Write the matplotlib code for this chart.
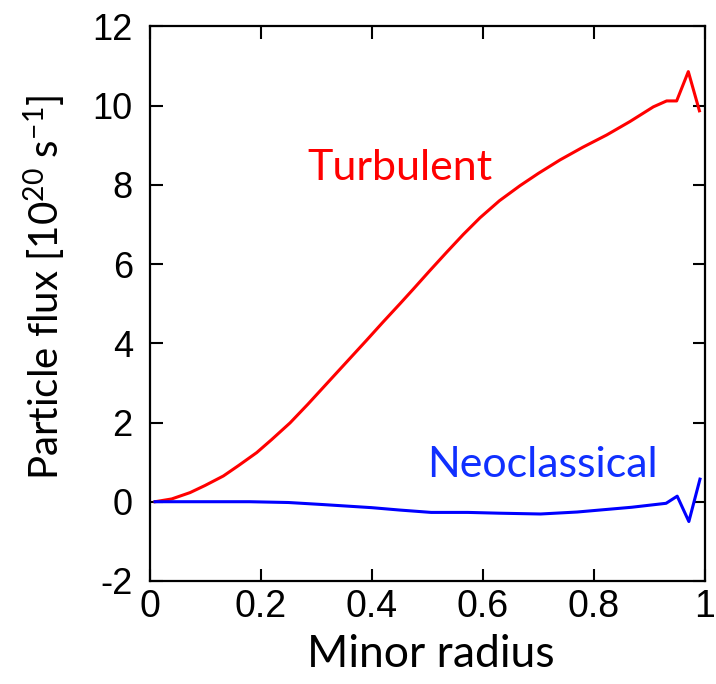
import numpy as np
import matplotlib
matplotlib.use('Agg')
import matplotlib.pyplot as plt

# data
r_turb = [0.01, 0.04, 0.073, 0.10, 0.133, 0.16, 0.193, 0.22, 0.253, 0.285,
          0.319, 0.355, 0.391, 0.42, 0.451, 0.475, 0.505, 0.535, 0.565, 0.595,
          0.63, 0.667, 0.70, 0.739, 0.78, 0.823, 0.865, 0.907, 0.931, 0.949,
          0.970, 0.990]
gamma_turb = [0.0, 0.07, 0.23, 0.41, 0.65, 0.91, 1.24, 1.57, 1.99, 2.46,
              2.98, 3.53, 4.08, 4.53, 5.0, 5.37, 5.84, 6.3, 6.75, 7.17,
              7.6, 7.98, 8.29, 8.63, 8.95, 9.26, 9.6, 9.97, 10.12, 10.12,
              10.86, 9.87]

r_neo = [0.01, 0.18, 0.25, 0.31, 0.40, 0.45, 0.507, 0.573, 0.63, 0.704, 0.77,
         0.868, 0.93, 0.95, 0.971, 0.991]
gamma_neo = [0.0, 0.0, -0.02, -0.07, -0.15, -0.21, -0.27, -0.27, -0.29, -0.31,
             -0.26, -0.14, -0.04, 0.14, -0.5, 0.57]

xticks = [0, 0.2, 0.4, 0.6, 0.8, 1]
xticklabels = ['0', '0.2', '0.4', '0.6', '0.8', '1']
yticks = [-2, 0, 2, 4, 6, 8, 10, 12]

plt.rcParams['mathtext.fontset'] = 'custom'
plt.rcParams['mathtext.rm'] = 'Lato'
plt.rcParams['mathtext.it'] = 'Lato:italic'
plt.rcParams['mathtext.bf'] = 'Lato:bold'
plt.rcParams['mathtext.default'] = 'rm'

fig = plt.figure(figsize=(7.16, 6.84), dpi=100)
ax = fig.add_axes([0.2088, 0.1507, 0.7758, 0.8106])

ax.plot(r_turb, gamma_turb, color='#ff0000', lw=2.2)
ax.plot(r_neo, gamma_neo, color='#0000ff', lw=2.2)

ax.text(0.451, 8.43, 'Turbulent', color='#ff0000', fontsize=31, family='Lato',
        ha='center', va='center')
ax.text(0.707, 0.93, 'Neoclassical', color='#1030ff', fontsize=31, family='Lato',
        ha='center', va='center')

ax.set_xlim(0, 1)
ax.set_ylim(-2, 12)
ax.set_xticks(xticks)
ax.set_xticklabels(xticklabels, family='Liberation Sans', fontsize=27)
ax.set_yticks(yticks)
ax.set_yticklabels([str(v) for v in yticks], family='Liberation Sans', fontsize=26)
ax.tick_params(direction='in', length=9, width=1.5, top=True, right=True)
ax.tick_params(axis='x', pad=6)
ax.tick_params(axis='y', pad=12)
for s in ax.spines.values():
    s.set_linewidth(1.6)

ax.set_xlabel('Minor radius', family='Lato', fontsize=32, va='center')
ax.xaxis.set_label_coords(0.507, -0.133)
ax.set_ylabel('Particle flux [10$^{20}$ s$^{-1}$]', family='Lato', fontsize=29,
              va='center')
ax.yaxis.set_label_coords(-0.188, 0.53)

fig.savefig('out.png', dpi=100)
